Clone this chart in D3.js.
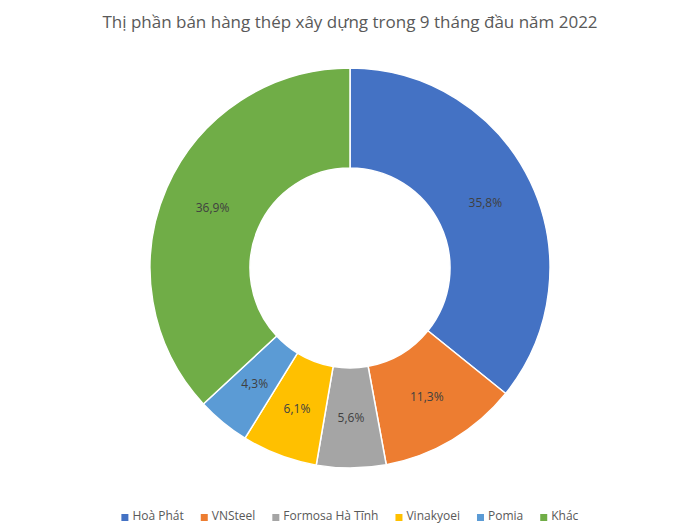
<!DOCTYPE html>
<html><head><meta charset="utf-8">
<script src="https://cdn.jsdelivr.net/npm/d3@7"></script>
<style>body{margin:0;background:#fff}svg{display:block}</style>
</head><body>
<svg id="c" width="700" height="531"></svg>
<script>
const title = "Thị phần bán hàng thép xây dựng trong 9 tháng đầu năm 2022";
const categories = ["Hoà Phát","VNSteel","Formosa Hà Tĩnh","Vinakyoei","Pomia","Khác"];
const values = [35.8, 11.3, 5.6, 6.1, 4.3, 36.9];
const colors = ["#4472C4","#ED7D31","#A5A5A5","#FFC000","#5B9BD5","#70AD47"];

const svg = d3.select("#c");
const font = "'Open Sans', sans-serif";
svg.append("rect").attr("width",700).attr("height",531).attr("fill","#fff");

svg.append("text").attr("x",350).attr("y",28).attr("text-anchor","middle")
  .attr("font-family",font).attr("font-size",17).attr("fill","#595959").text(title);

const cx = 350, cy = 268, R = 200, r = 100;
const data = categories.map((c,i)=>({name:c,value:values[i],color:colors[i]}));
const pie = d3.pie().value(d=>d.value).sort(null);
const arc = d3.arc().innerRadius(r).outerRadius(R);
const labelArc = d3.arc().innerRadius(150).outerRadius(150);
const g = svg.append("g").attr("transform",`translate(${cx},${cy})`);
const arcs = pie(data);
g.selectAll("path").data(arcs).join("path")
  .attr("d",arc).attr("fill",d=>d.data.color).attr("stroke","#fff").attr("stroke-width",1.5);
g.selectAll("text").data(arcs).join("text")
  .attr("transform",d=>`translate(${labelArc.centroid(d)})`)
  .attr("text-anchor","middle").attr("dy","0.35em")
  .attr("font-family",font).attr("font-size",12).attr("fill","#404040")
  .text(d=>d3.format(".1f")(d.data.value).replace(".",",")+"%");

// legend
const lg = svg.append("g");
const items = lg.selectAll("g").data(data).join("g");
items.append("rect").attr("width",7).attr("height",7).attr("y",-6).attr("fill",d=>d.color);
items.append("text").attr("x",11).attr("y",0).attr("dy","0.02em")
  .attr("font-family",font).attr("font-size",12).attr("fill","#595959").text(d=>d.name);
let x = 0; const gap = 17;
items.each(function(){
  const w = this.getBBox().width;
  d3.select(this).attr("transform",`translate(${x},0)`);
  x += w + gap;
});
const total = x - gap;
lg.attr("transform",`translate(${(700-total)/2},520)`);
</script>
</body></html>
